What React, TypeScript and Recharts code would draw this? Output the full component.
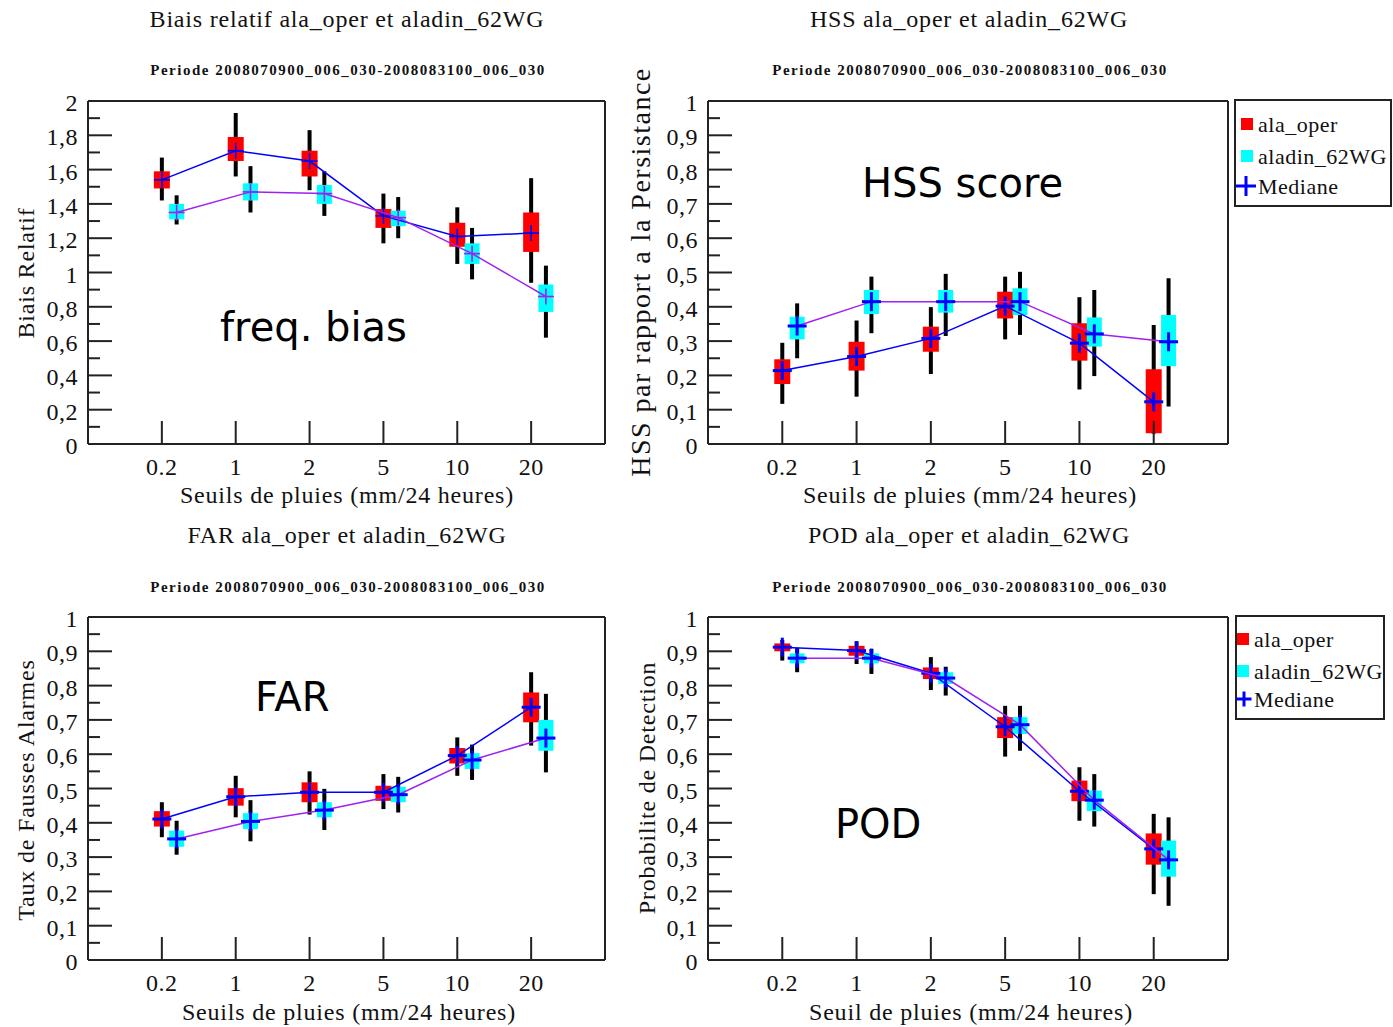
import React from "react";
import { ComposedChart, Scatter, ErrorBar, XAxis, YAxis } from "recharts";

const THRESHOLDS = ["0.2", "1", "2", "5", "10", "20"];
const X_TICKS = [0, 1, 2, 3, 4, 5];

const BIAS_TICKS = [0, 0.1, 0.2, 0.3, 0.4, 0.5, 0.6, 0.7, 0.8, 0.9, 1, 1.1, 1.2, 1.3, 1.4, 1.5, 1.6, 1.7, 1.8, 1.9, 2];
const BIAS_LABELS = ["0", "", "0,2", "", "0,4", "", "0,6", "", "0,8", "", "1", "", "1,2", "", "1,4", "", "1,6", "", "1,8", "", "2"];
const SCORE_TICKS = [0, 0.05, 0.1, 0.15, 0.2, 0.25, 0.3, 0.35, 0.4, 0.45, 0.5, 0.55, 0.6, 0.65, 0.7, 0.75, 0.8, 0.85, 0.9, 0.95, 1];
const SCORE_LABELS = ["0", "", "0,1", "", "0,2", "", "0,3", "", "0,4", "", "0,5", "", "0,6", "", "0,7", "", "0,8", "", "0,9", "", "1"];

// freq. bias
const BIAS_OPER_MED = [1.54, 1.71, 1.65, 1.33, 1.21, 1.23];
const BIAS_OPER_Q1 = [1.49, 1.65, 1.56, 1.26, 1.15, 1.12];
const BIAS_OPER_Q3 = [1.59, 1.79, 1.71, 1.37, 1.29, 1.35];
const BIAS_OPER_MIN = [1.42, 1.56, 1.48, 1.17, 1.05, 0.94];
const BIAS_OPER_MAX = [1.67, 1.93, 1.83, 1.46, 1.38, 1.55];

const BIAS_ALADIN_MED = [1.35, 1.47, 1.46, 1.32, 1.11, 0.86];
const BIAS_ALADIN_Q1 = [1.31, 1.42, 1.4, 1.27, 1.05, 0.77];
const BIAS_ALADIN_Q3 = [1.4, 1.52, 1.51, 1.36, 1.17, 0.93];
const BIAS_ALADIN_MIN = [1.28, 1.35, 1.33, 1.2, 0.96, 0.62];
const BIAS_ALADIN_MAX = [1.45, 1.62, 1.59, 1.44, 1.26, 1.04];

// HSS
const HSS_OPER_MED = [0.214, 0.255, 0.308, 0.402, 0.294, 0.123];
const HSS_OPER_Q1 = [0.175, 0.214, 0.269, 0.366, 0.243, 0.031];
const HSS_OPER_Q3 = [0.247, 0.298, 0.342, 0.444, 0.352, 0.218];
const HSS_OPER_MIN = [0.117, 0.138, 0.204, 0.305, 0.159, 0.03];
const HSS_OPER_MAX = [0.295, 0.36, 0.399, 0.488, 0.428, 0.347];

const HSS_ALADIN_MED = [0.344, 0.415, 0.415, 0.415, 0.321, 0.298];
const HSS_ALADIN_Q1 = [0.305, 0.379, 0.383, 0.376, 0.284, 0.227];
const HSS_ALADIN_Q3 = [0.371, 0.449, 0.449, 0.454, 0.369, 0.376];
const HSS_ALADIN_MIN = [0.25, 0.323, 0.315, 0.318, 0.198, 0.109];
const HSS_ALADIN_MAX = [0.41, 0.488, 0.496, 0.502, 0.449, 0.483];

// FAR
const FAR_OPER_MED = [0.411, 0.476, 0.489, 0.489, 0.596, 0.737];
const FAR_OPER_Q1 = [0.389, 0.45, 0.46, 0.464, 0.573, 0.693];
const FAR_OPER_Q3 = [0.434, 0.501, 0.518, 0.508, 0.618, 0.78];
const FAR_OPER_MIN = [0.358, 0.416, 0.424, 0.44, 0.537, 0.625];
const FAR_OPER_MAX = [0.46, 0.537, 0.55, 0.542, 0.649, 0.839];

const FAR_ALADIN_MED = [0.353, 0.404, 0.437, 0.482, 0.583, 0.647];
const FAR_ALADIN_Q1 = [0.33, 0.382, 0.416, 0.46, 0.557, 0.61];
const FAR_ALADIN_Q3 = [0.377, 0.428, 0.46, 0.505, 0.603, 0.7];
const FAR_ALADIN_MIN = [0.307, 0.346, 0.379, 0.43, 0.525, 0.547];
const FAR_ALADIN_MAX = [0.406, 0.466, 0.499, 0.534, 0.628, 0.776];

// POD
const POD_OPER_MED = [0.912, 0.902, 0.836, 0.68, 0.492, 0.324];
const POD_OPER_Q1 = [0.9, 0.887, 0.819, 0.647, 0.463, 0.278];
const POD_OPER_Q3 = [0.923, 0.916, 0.853, 0.708, 0.523, 0.369];
const POD_OPER_MIN = [0.873, 0.863, 0.787, 0.593, 0.406, 0.192];
const POD_OPER_MAX = [0.933, 0.929, 0.883, 0.741, 0.562, 0.426];

const POD_ALADIN_MED = [0.88, 0.88, 0.822, 0.686, 0.466, 0.292];
const POD_ALADIN_Q1 = [0.865, 0.865, 0.805, 0.659, 0.434, 0.243];
const POD_ALADIN_Q3 = [0.894, 0.894, 0.839, 0.708, 0.494, 0.348];
const POD_ALADIN_MIN = [0.839, 0.834, 0.771, 0.61, 0.389, 0.158];
const POD_ALADIN_MAX = [0.91, 0.907, 0.855, 0.741, 0.542, 0.416];

const RED = "#ff0000";
const CYAN = "#00ffff";
const BLUE = "#0000ff";
const PURPLE = "#a020f0";
const INK = "#222";
const SERIF = "Liberation Serif, Times New Roman, serif";
const SANS = "DejaVu Sans, Verdana, sans-serif";
const PERIOD = "Periode 2008070900_006_030-2008083100_006_030";

const ALADIN_SHIFT = 0.2;

const toRows = (
  med: number[],
  q1: number[],
  q3: number[],
  lo: number[],
  hi: number[],
  shift: number
) =>
  med.map((m, i) => ({
    x: i + shift,
    y: m,
    box: [m - q1[i], q3[i] - m],
    whisker: [m - lo[i], hi[i] - m],
  }));

const AXIS_LINE = { stroke: INK, strokeWidth: 2 };

const findLabel = (ticks: number[], labels: string[], v: number) => {
  const i = ticks.findIndex((t) => Math.abs(t - v) < 1e-6);
  return i < 0 ? "" : labels[i];
};

const LeftTick = (p: any, ticks: number[], labels: string[]) => {
  const label = findLabel(ticks, labels, p.payload.value);
  const len = label ? 24 : 12;
  return (
    <g>
      <line x1={p.x} x2={p.x + len} y1={p.y} y2={p.y} stroke={INK} strokeWidth={2} />
      {label && (
        <text
          x={p.x - 10}
          y={p.y + 2}
          textAnchor="end"
          dominantBaseline="central"
          fontFamily={SERIF}
          fontSize={24}
          letterSpacing={0.5}
          fill="#111"
        >
          {label}
        </text>
      )}
    </g>
  );
};

const RightTick = (p: any, ticks: number[], labels: string[]) => {
  const label = findLabel(ticks, labels, p.payload.value);
  const len = label ? 22 : 11;
  return <line x1={p.x} x2={p.x - len} y1={p.y} y2={p.y} stroke={INK} strokeWidth={2} />;
};

const BottomTick = (p: any) => (
  <g>
    <line x1={p.x} x2={p.x} y1={p.y} y2={p.y - 23} stroke={INK} strokeWidth={2} />
    <text
      x={p.x}
      y={p.y + 23}
      textAnchor="middle"
      dominantBaseline="central"
      fontFamily={SERIF}
      fontSize={24}
      letterSpacing={0.5}
      fill="#111"
    >
      {THRESHOLDS[p.payload.value]}
    </text>
  </g>
);

const TopTick = (p: any) => (
  <line x1={p.x} x2={p.x} y1={p.y} y2={p.y + 23} stroke={INK} strokeWidth={2} />
);

const Cross = ({ cx, cy, size, color, width }: any) => (
  <g>
    <line x1={cx - size / 2} x2={cx + size / 2} y1={cy} y2={cy} stroke={color} strokeWidth={width} />
    <line x1={cx} x2={cx} y1={cy - size / 2} y2={cy + size / 2} stroke={color} strokeWidth={width} />
  </g>
);

interface PanelProps {
  left: number;
  top: number;
  plotWidth: number;
  yMax: number;
  yTicks: number[];
  yLabels: string[];
  oper: ReturnType<typeof toRows>;
  aladin: ReturnType<typeof toRows>;
  thin?: boolean;
}

const Panel = ({ left, top, plotWidth, yMax, yTicks, yLabels, oper, aladin, thin = false }: PanelProps) => {
  const W = 620;
  const H = 510;
  const crossSize = thin ? 16 : 19;
  const crossWidth = thin ? 1.6 : 3;
  return (
    <div style={{ position: "absolute", left, top }}>
      <ComposedChart
        width={W}
        height={H}
        margin={{ top: 100, right: W - 88 - plotWidth - 1, bottom: 6, left: 0 }}
      >
        <XAxis
          xAxisId="b"
          dataKey="x"
          type="number"
          domain={[-1, 6]}
          ticks={X_TICKS}
          interval={0}
          height={60}
          tickSize={0}
          tickMargin={0}
          tickLine={false}
          axisLine={AXIS_LINE}
          tick={BottomTick}
        />
        <XAxis
          xAxisId="t"
          orientation="top"
          dataKey="x"
          type="number"
          domain={[-1, 6]}
          ticks={X_TICKS}
          interval={0}
          height={1}
          tickSize={0}
          tickMargin={0}
          tickLine={false}
          axisLine={AXIS_LINE}
          tick={TopTick}
        />
        <YAxis
          yAxisId="l"
          dataKey="y"
          type="number"
          domain={[0, yMax]}
          ticks={yTicks}
          interval={0}
          width={88}
          tickSize={0}
          tickMargin={0}
          tickLine={false}
          axisLine={AXIS_LINE}
          tick={(p: any) => LeftTick(p, yTicks, yLabels)}
        />
        <YAxis
          yAxisId="r"
          orientation="right"
          dataKey="y"
          type="number"
          domain={[0, yMax]}
          ticks={yTicks}
          interval={0}
          width={1}
          tickSize={0}
          tickMargin={0}
          tickLine={false}
          axisLine={AXIS_LINE}
          tick={(p: any) => RightTick(p, yTicks, yLabels)}
        />
        <Scatter
          name="ala_oper"
          data={oper}
          dataKey="y"
          xAxisId="b"
          yAxisId="l"
          isAnimationActive={false}
          line={{ stroke: BLUE, strokeWidth: 1.5 }}
          shape={(p: any) => <Cross cx={p.cx} cy={p.cy} size={crossSize} width={crossWidth} color={BLUE} />}
        >
          <ErrorBar dataKey="whisker" direction="y" width={0} stroke="#000" strokeWidth={4} />
          <ErrorBar dataKey="box" direction="y" width={0} stroke={RED} strokeWidth={16} />
        </Scatter>
        <Scatter
          name="aladin_62WG"
          data={aladin}
          dataKey="y"
          xAxisId="b"
          yAxisId="l"
          isAnimationActive={false}
          line={{ stroke: PURPLE, strokeWidth: 1.5 }}
          shape={(p: any) => (
            <Cross cx={p.cx} cy={p.cy} size={crossSize} width={crossWidth} color={thin ? PURPLE : BLUE} />
          )}
        >
          <ErrorBar dataKey="whisker" direction="y" width={0} stroke="#000" strokeWidth={4} />
          <ErrorBar dataKey="box" direction="y" width={0} stroke={CYAN} strokeWidth={15} />
        </Scatter>
      </ComposedChart>
    </div>
  );
};

const T = ({ x, y, children, size = 24, spacing = 0.8, rotate = false, bold = false }: any) => (
  <text
    x={x}
    y={y}
    textAnchor="middle"
    dominantBaseline="central"
    fontFamily={SERIF}
    fontSize={size}
    fontWeight={bold ? "bold" : "normal"}
    letterSpacing={spacing}
    fill="#111"
    transform={rotate ? `rotate(-90 ${x} ${y})` : undefined}
  >
    {children}
  </text>
);

const Note = ({ x, y, children }: any) => (
  <text x={x} y={y} fontFamily={SANS} fontSize={40} fill="#000">
    {children}
  </text>
);

const LegendBox = ({ x, y, w, h, sq, rowY, textX, cross }: any) => (
  <g>
    <rect x={x} y={y} width={w} height={h} fill="#fff" stroke={INK} strokeWidth={2} />
    <rect x={sq} y={rowY[0] - 6} width={12} height={12} fill={RED} />
    <rect x={sq} y={rowY[1] - 6} width={12} height={12} fill={CYAN} />
    <Cross cx={cross[0]} cy={rowY[2]} size={cross[1]} width={3} color={BLUE} />
    {["ala_oper", "aladin_62WG", "Mediane"].map((s, i) => (
      <text
        key={s}
        x={textX}
        y={rowY[i]}
        dominantBaseline="central"
        fontFamily={SERIF}
        fontSize={22}
        letterSpacing={0.5}
        fill="#111"
      >
        {s}
      </text>
    ))}
  </g>
);

export default function App() {
  return (
    <div
      style={{
        position: "absolute",
        left: 0,
        top: 0,
        width: 1393,
        height: 1027,
        overflow: "hidden",
        background: "#fff",
      }}
    >
      <Panel
        left={0}
        top={0}
        plotWidth={517}
        yMax={2}
        yTicks={BIAS_TICKS}
        yLabels={BIAS_LABELS}
        thin
        oper={toRows(BIAS_OPER_MED, BIAS_OPER_Q1, BIAS_OPER_Q3, BIAS_OPER_MIN, BIAS_OPER_MAX, 0)}
        aladin={toRows(BIAS_ALADIN_MED, BIAS_ALADIN_Q1, BIAS_ALADIN_Q3, BIAS_ALADIN_MIN, BIAS_ALADIN_MAX, ALADIN_SHIFT)}
      />
      <Panel
        left={620}
        top={0}
        plotWidth={520}
        yMax={1}
        yTicks={SCORE_TICKS}
        yLabels={SCORE_LABELS}
        oper={toRows(HSS_OPER_MED, HSS_OPER_Q1, HSS_OPER_Q3, HSS_OPER_MIN, HSS_OPER_MAX, 0)}
        aladin={toRows(HSS_ALADIN_MED, HSS_ALADIN_Q1, HSS_ALADIN_Q3, HSS_ALADIN_MIN, HSS_ALADIN_MAX, ALADIN_SHIFT)}
      />
      <Panel
        left={0}
        top={516}
        plotWidth={517}
        yMax={1}
        yTicks={SCORE_TICKS}
        yLabels={SCORE_LABELS}
        oper={toRows(FAR_OPER_MED, FAR_OPER_Q1, FAR_OPER_Q3, FAR_OPER_MIN, FAR_OPER_MAX, 0)}
        aladin={toRows(FAR_ALADIN_MED, FAR_ALADIN_Q1, FAR_ALADIN_Q3, FAR_ALADIN_MIN, FAR_ALADIN_MAX, ALADIN_SHIFT)}
      />
      <Panel
        left={620}
        top={516}
        plotWidth={520}
        yMax={1}
        yTicks={SCORE_TICKS}
        yLabels={SCORE_LABELS}
        oper={toRows(POD_OPER_MED, POD_OPER_Q1, POD_OPER_Q3, POD_OPER_MIN, POD_OPER_MAX, 0)}
        aladin={toRows(POD_ALADIN_MED, POD_ALADIN_Q1, POD_ALADIN_Q3, POD_ALADIN_MIN, POD_ALADIN_MAX, ALADIN_SHIFT)}
      />
      <svg
        width={1393}
        height={1027}
        style={{ position: "absolute", left: 0, top: 0, pointerEvents: "none" }}
      >
        <T x={347} y={19}>Biais relatif ala_oper et aladin_62WG</T>
        <T x={969} y={19}>HSS ala_oper et aladin_62WG</T>
        <T x={347} y={535}>FAR ala_oper et aladin_62WG</T>
        <T x={969} y={535}>POD ala_oper et aladin_62WG</T>

        <T x={348} y={70} size={15} spacing={1.5} bold>{PERIOD}</T>
        <T x={970} y={70} size={15} spacing={1.5} bold>{PERIOD}</T>
        <T x={348} y={587} size={15} spacing={1.5} bold>{PERIOD}</T>
        <T x={970} y={587} size={15} spacing={1.5} bold>{PERIOD}</T>

        <T x={347} y={495}>Seuils de pluies (mm/24 heures)</T>
        <T x={970} y={495}>Seuils de pluies (mm/24 heures)</T>
        <T x={349} y={1012}>Seuils de pluies (mm/24 heures)</T>
        <T x={971} y={1012}>Seuil de pluies (mm/24 heures)</T>

        <T x={26} y={273} rotate>Biais Relatif</T>
        <T x={640} y={272} size={28} spacing={1.5} rotate>HSS par rapport a la Persistance</T>
        <T x={26} y={790} rotate>Taux de Fausses Alarmes</T>
        <T x={647} y={788} rotate>Probabilite de Detection</T>

        <Note x={220} y={341}>freq. bias</Note>
        <Note x={862} y={197}>HSS score</Note>
        <Note x={255} y={711}>FAR</Note>
        <Note x={835} y={838}>POD</Note>

        <LegendBox x={1235} y={100} w={156} h={106} sq={1241} rowY={[124, 156, 186]} textX={1258} cross={[1246, 20]} />
        <LegendBox x={1236} y={616} w={148} h={103} sq={1237} rowY={[639, 671, 699]} textX={1254} cross={[1244, 15]} />
      </svg>
    </div>
  );
}
